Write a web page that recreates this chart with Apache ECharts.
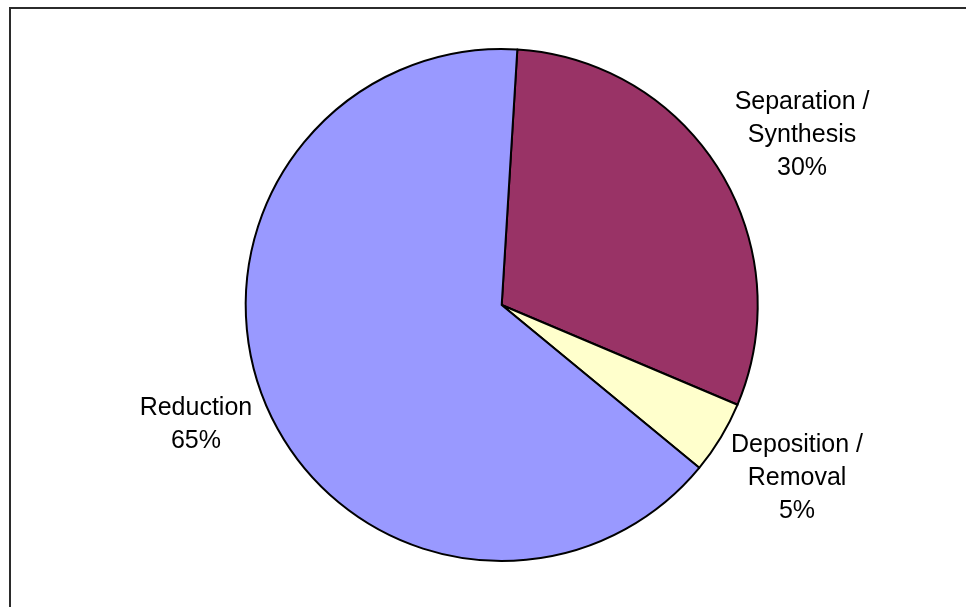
<!DOCTYPE html>
<html>
<head>
<meta charset="utf-8">
<title>Pie</title>
<script src="https://cdn.jsdelivr.net/npm/echarts@6/dist/echarts.min.js"></script>
<style>
    html, body { margin: 0; padding: 0; background: #fff; }
    #chart { width: 966px; height: 607px; }
</style>
</head>
<body>
<div id="chart"></div>
<script>
// slice names (label lines) and shares, clockwise from 12 o'clock
const categories = ['Separation / Synthesis', 'Deposition / Removal', 'Reduction'];
const labelLines = [['Separation /', 'Synthesis'], ['Deposition /', 'Removal'], ['Reduction']];
const shares = [30.4, 4.6, 65.0];
const sliceColors = ['#993366', '#FFFFCC', '#9999FF'];

// label guide lengths (hidden lines) so text sits like the excel labels
const guides = [[66.6, -48.9], [78, -65.3], [43.5, -43.9]];

const chart = echarts.init(document.getElementById('chart'));
chart.setOption({
    animation: false,
    graphic: [{
        type: 'rect',
        shape: { x: 10, y: 8, width: 1000, height: 700 },
        style: { fill: 'none', stroke: '#2b2b2b', lineWidth: 2 },
        silent: true
    }],
    series: [{
        type: 'pie',
        center: [501.7, 305],
        radius: 256,
        startAngle: 86.5,
        clockwise: true,
        avoidLabelOverlap: false,
        emphasis: { disabled: true },
        itemStyle: { borderColor: '#000', borderWidth: 2 },
        label: {
            show: true,
            position: 'outside',
            color: '#000',
            fontFamily: 'Arial, "Liberation Sans", sans-serif',
            fontSize: 25,
            formatter: (p) => {
                const lines = labelLines[p.dataIndex].map(t => '{t|' + t + '}');
                lines.push('{t|' + Math.round(p.percent) + '%}');
                return lines.join('\n');
            },
            rich: {
                t: {
                    width: 140,
                    align: 'center',
                    lineHeight: 33,
                    fontSize: 25,
                    color: '#000',
                    fontFamily: 'Arial, "Liberation Sans", sans-serif'
                }
            }
        },
        labelLine: { show: false },
        data: categories.map((name, i) => ({
            name: name,
            value: shares[i],
            itemStyle: { color: sliceColors[i] },
            labelLine: { show: false, length: guides[i][0], length2: guides[i][1] }
        }))
    }]
});
</script>
</body>
</html>
